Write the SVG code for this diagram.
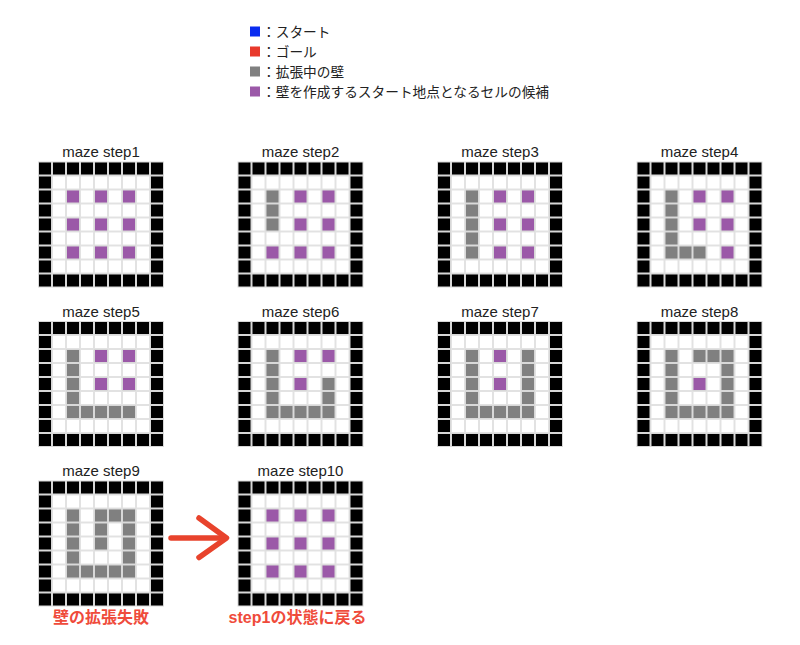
<svg xmlns="http://www.w3.org/2000/svg" xmlns:xlink="http://www.w3.org/1999/xlink" width="800" height="645" viewBox="0 0 800 645">
<style>
text{font-family:'Liberation Sans','Noto Sans CJK JP',sans-serif;fill:#222}
.t{font-size:15px;text-anchor:middle}
.lg{font-size:13.7px}
.c{stroke:#d8d8d8;stroke-width:1}
.g{fill:#808080}
.p{fill:#9b59a8}
.red{font-size:16px;font-weight:bold;fill:#ef4b3b;text-anchor:middle}
</style>
<defs>
<pattern id="cb" width="14" height="14" patternUnits="userSpaceOnUse"><rect x="0.5" y="0.5" width="13" height="13" fill="#000" stroke="#d8d8d8" stroke-width="1"/></pattern>
<pattern id="cw" width="14" height="14" patternUnits="userSpaceOnUse"><rect x="0.5" y="0.5" width="13" height="13" fill="#fff" stroke="#e2e2e2" stroke-width="1"/></pattern>
<g id="base"><rect x="0" y="0" width="126" height="126" fill="url(#cb)"/><rect x="14" y="14" width="98" height="98" fill="url(#cw)"/></g>
<rect id="P" width="13" height="13" class="c p"/>
<rect id="G" width="13" height="13" class="c g"/>
</defs>
<rect width="800" height="645" fill="#fff"/>
<g id="legend">
<rect x="250" y="26.5" width="10" height="10" fill="#0a2cf0"/>
<text class="lg" x="262" y="36.5">：スタート</text>
<rect x="250" y="46.5" width="10" height="10" fill="#e8392b"/>
<text class="lg" x="262" y="56.5">：ゴール</text>
<rect x="250" y="66.5" width="10" height="10" fill="#808080"/>
<text class="lg" x="262" y="76.5">：拡張中の壁</text>
<rect x="250" y="86.5" width="10" height="10" fill="#9b59a8"/>
<text class="lg" x="262" y="96.5">：壁を作成するスタート地点となるセルの候補</text>
</g>
<g id="step1" transform="translate(38,161.5)">
<text class="t" x="63" y="-4.5">maze step1</text>
<use xlink:href="#base"/>
<use xlink:href="#P" x="28.5" y="28.5"/><use xlink:href="#P" x="56.5" y="28.5"/><use xlink:href="#P" x="84.5" y="28.5"/>
<use xlink:href="#P" x="28.5" y="56.5"/><use xlink:href="#P" x="56.5" y="56.5"/><use xlink:href="#P" x="84.5" y="56.5"/>
<use xlink:href="#P" x="28.5" y="84.5"/><use xlink:href="#P" x="56.5" y="84.5"/><use xlink:href="#P" x="84.5" y="84.5"/>
</g>
<g id="step2" transform="translate(237.5,161.5)">
<text class="t" x="63" y="-4.5">maze step2</text>
<use xlink:href="#base"/>
<use xlink:href="#G" x="28.5" y="28.5"/><use xlink:href="#G" x="28.5" y="42.5"/><use xlink:href="#G" x="28.5" y="56.5"/>
<use xlink:href="#P" x="56.5" y="28.5"/><use xlink:href="#P" x="84.5" y="28.5"/>
<use xlink:href="#P" x="56.5" y="56.5"/><use xlink:href="#P" x="84.5" y="56.5"/>
<use xlink:href="#P" x="28.5" y="84.5"/><use xlink:href="#P" x="56.5" y="84.5"/><use xlink:href="#P" x="84.5" y="84.5"/>
</g>
<g id="step3" transform="translate(437,161.5)">
<text class="t" x="63" y="-4.5">maze step3</text>
<use xlink:href="#base"/>
<use xlink:href="#G" x="28.5" y="28.5"/><use xlink:href="#G" x="28.5" y="42.5"/><use xlink:href="#G" x="28.5" y="56.5"/><use xlink:href="#G" x="28.5" y="70.5"/><use xlink:href="#G" x="28.5" y="84.5"/>
<use xlink:href="#P" x="56.5" y="28.5"/><use xlink:href="#P" x="84.5" y="28.5"/>
<use xlink:href="#P" x="56.5" y="56.5"/><use xlink:href="#P" x="84.5" y="56.5"/>
<use xlink:href="#P" x="56.5" y="84.5"/><use xlink:href="#P" x="84.5" y="84.5"/>
</g>
<g id="step4" transform="translate(636.5,161.5)">
<text class="t" x="63" y="-4.5">maze step4</text>
<use xlink:href="#base"/>
<use xlink:href="#G" x="28.5" y="28.5"/><use xlink:href="#G" x="28.5" y="42.5"/><use xlink:href="#G" x="28.5" y="56.5"/><use xlink:href="#G" x="28.5" y="70.5"/><use xlink:href="#G" x="28.5" y="84.5"/>
<use xlink:href="#G" x="42.5" y="84.5"/><use xlink:href="#G" x="56.5" y="84.5"/>
<use xlink:href="#P" x="56.5" y="28.5"/><use xlink:href="#P" x="84.5" y="28.5"/>
<use xlink:href="#P" x="56.5" y="56.5"/><use xlink:href="#P" x="84.5" y="56.5"/>
<use xlink:href="#P" x="84.5" y="84.5"/>
</g>
<g id="step5" transform="translate(38,321)">
<text class="t" x="63" y="-4.5">maze step5</text>
<use xlink:href="#base"/>
<use xlink:href="#G" x="28.5" y="28.5"/><use xlink:href="#G" x="28.5" y="42.5"/><use xlink:href="#G" x="28.5" y="56.5"/><use xlink:href="#G" x="28.5" y="70.5"/><use xlink:href="#G" x="28.5" y="84.5"/>
<use xlink:href="#G" x="42.5" y="84.5"/><use xlink:href="#G" x="56.5" y="84.5"/><use xlink:href="#G" x="70.5" y="84.5"/><use xlink:href="#G" x="84.5" y="84.5"/>
<use xlink:href="#P" x="56.5" y="28.5"/><use xlink:href="#P" x="84.5" y="28.5"/>
<use xlink:href="#P" x="56.5" y="56.5"/><use xlink:href="#P" x="84.5" y="56.5"/>
</g>
<g id="step6" transform="translate(237.5,321)">
<text class="t" x="63" y="-4.5">maze step6</text>
<use xlink:href="#base"/>
<use xlink:href="#G" x="28.5" y="28.5"/><use xlink:href="#G" x="28.5" y="42.5"/><use xlink:href="#G" x="28.5" y="56.5"/><use xlink:href="#G" x="28.5" y="70.5"/><use xlink:href="#G" x="28.5" y="84.5"/>
<use xlink:href="#G" x="42.5" y="84.5"/><use xlink:href="#G" x="56.5" y="84.5"/><use xlink:href="#G" x="70.5" y="84.5"/><use xlink:href="#G" x="84.5" y="84.5"/>
<use xlink:href="#G" x="84.5" y="56.5"/><use xlink:href="#G" x="84.5" y="70.5"/>
<use xlink:href="#P" x="56.5" y="28.5"/><use xlink:href="#P" x="84.5" y="28.5"/>
<use xlink:href="#P" x="56.5" y="56.5"/>
</g>
<g id="step7" transform="translate(437,321)">
<text class="t" x="63" y="-4.5">maze step7</text>
<use xlink:href="#base"/>
<use xlink:href="#G" x="28.5" y="28.5"/><use xlink:href="#G" x="28.5" y="42.5"/><use xlink:href="#G" x="28.5" y="56.5"/><use xlink:href="#G" x="28.5" y="70.5"/><use xlink:href="#G" x="28.5" y="84.5"/>
<use xlink:href="#G" x="42.5" y="84.5"/><use xlink:href="#G" x="56.5" y="84.5"/><use xlink:href="#G" x="70.5" y="84.5"/><use xlink:href="#G" x="84.5" y="84.5"/>
<use xlink:href="#G" x="84.5" y="28.5"/><use xlink:href="#G" x="84.5" y="42.5"/><use xlink:href="#G" x="84.5" y="56.5"/><use xlink:href="#G" x="84.5" y="70.5"/>
<use xlink:href="#P" x="56.5" y="28.5"/>
<use xlink:href="#P" x="56.5" y="56.5"/>
</g>
<g id="step8" transform="translate(636.5,321)">
<text class="t" x="63" y="-4.5">maze step8</text>
<use xlink:href="#base"/>
<use xlink:href="#G" x="28.5" y="28.5"/><use xlink:href="#G" x="28.5" y="42.5"/><use xlink:href="#G" x="28.5" y="56.5"/><use xlink:href="#G" x="28.5" y="70.5"/><use xlink:href="#G" x="28.5" y="84.5"/>
<use xlink:href="#G" x="42.5" y="84.5"/><use xlink:href="#G" x="56.5" y="84.5"/><use xlink:href="#G" x="70.5" y="84.5"/><use xlink:href="#G" x="84.5" y="84.5"/>
<use xlink:href="#G" x="84.5" y="28.5"/><use xlink:href="#G" x="84.5" y="42.5"/><use xlink:href="#G" x="84.5" y="56.5"/><use xlink:href="#G" x="84.5" y="70.5"/>
<use xlink:href="#G" x="56.5" y="28.5"/><use xlink:href="#G" x="70.5" y="28.5"/>
<use xlink:href="#P" x="56.5" y="56.5"/>
</g>
<g id="step9" transform="translate(38,480.5)">
<text class="t" x="63" y="-4.5">maze step9</text>
<use xlink:href="#base"/>
<use xlink:href="#G" x="28.5" y="28.5"/><use xlink:href="#G" x="28.5" y="42.5"/><use xlink:href="#G" x="28.5" y="56.5"/><use xlink:href="#G" x="28.5" y="70.5"/><use xlink:href="#G" x="28.5" y="84.5"/>
<use xlink:href="#G" x="42.5" y="84.5"/><use xlink:href="#G" x="56.5" y="84.5"/><use xlink:href="#G" x="70.5" y="84.5"/><use xlink:href="#G" x="84.5" y="84.5"/>
<use xlink:href="#G" x="84.5" y="28.5"/><use xlink:href="#G" x="84.5" y="42.5"/><use xlink:href="#G" x="84.5" y="56.5"/><use xlink:href="#G" x="84.5" y="70.5"/>
<use xlink:href="#G" x="56.5" y="28.5"/><use xlink:href="#G" x="70.5" y="28.5"/>
<use xlink:href="#G" x="56.5" y="42.5"/><use xlink:href="#G" x="56.5" y="56.5"/>
<text class="red" x="63" y="142.5">壁の拡張失敗</text>
</g>
<g id="step10" transform="translate(237.5,480.5)">
<text class="t" x="63" y="-4.5">maze step10</text>
<use xlink:href="#base"/>
<use xlink:href="#P" x="28.5" y="28.5"/><use xlink:href="#P" x="56.5" y="28.5"/><use xlink:href="#P" x="84.5" y="28.5"/>
<use xlink:href="#P" x="28.5" y="56.5"/><use xlink:href="#P" x="56.5" y="56.5"/><use xlink:href="#P" x="84.5" y="56.5"/>
<use xlink:href="#P" x="28.5" y="84.5"/><use xlink:href="#P" x="56.5" y="84.5"/><use xlink:href="#P" x="84.5" y="84.5"/>
<text class="red" x="60" y="142.5">step1の状態に戻る</text>
</g>
<g id="connectors" fill="none" stroke="#e8432c" stroke-width="5.5" stroke-linecap="round" stroke-linejoin="round">
<path d="M171,538 L224,538"/>
<path d="M199,518 L226.5,538 L199,557.5"/>
</g>
</svg>
